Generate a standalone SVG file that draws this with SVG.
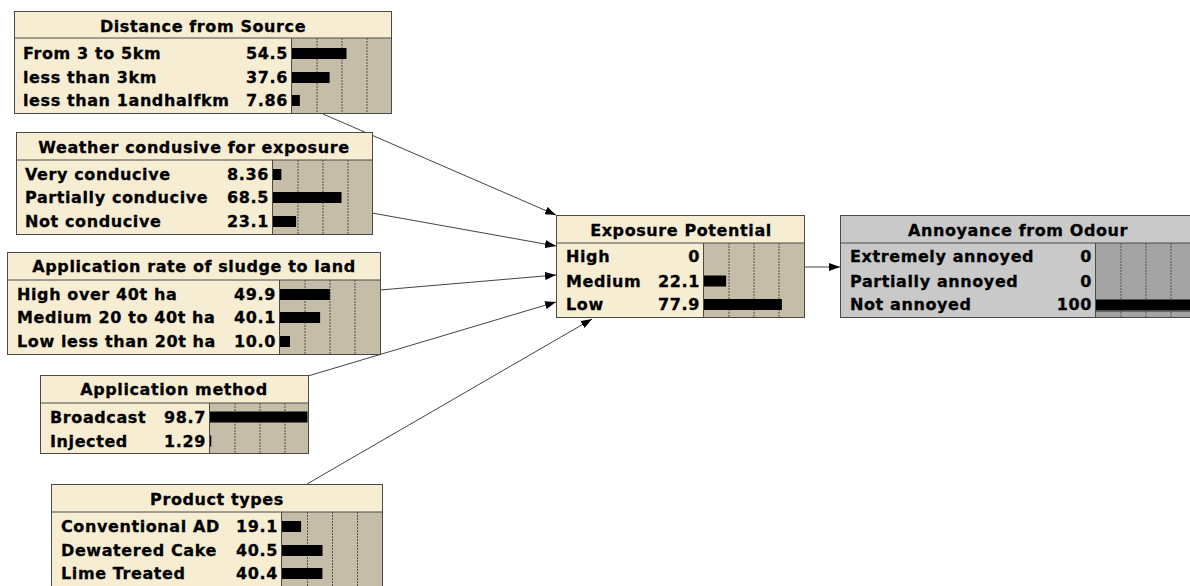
<svg xmlns="http://www.w3.org/2000/svg" width="1190" height="586" viewBox="0 0 1190 586">
<style>
text{font-family:"DejaVu Sans","Liberation Sans",sans-serif;font-weight:bold;font-size:16px;letter-spacing:0.6px;fill:#000;stroke:#000;stroke-width:0.3px}
.t{text-anchor:middle}
.v{text-anchor:end}
.box{fill:#f7edd3;stroke:#4a4a4a;stroke-width:1}
.sep{stroke:#4a4a4a;stroke-width:1}
.area{fill:#c6bda9}
.gbox{fill:#c9c9c9;stroke:#4a4a4a;stroke-width:1}
.garea{fill:#a4a4a4}
.grid{stroke:#555;stroke-width:1;stroke-dasharray:2,1}
.bar{fill:#000}
.conn{stroke:#444;stroke-width:1;fill:none;marker-end:url(#arr)}
</style>
<defs>
<marker id="arr" markerUnits="userSpaceOnUse" markerWidth="11" markerHeight="8" refX="11" refY="4" orient="auto">
<path d="M0,0 L11,4 L0,8 z" fill="#000"/>
</marker>
</defs>

<g id="connectors">
<line class="conn" x1="323" y1="114" x2="556" y2="215"/>
<line class="conn" x1="372" y1="213" x2="556" y2="246"/>
<line class="conn" x1="380" y1="290" x2="556" y2="275"/>
<line class="conn" x1="308" y1="376" x2="556" y2="302"/>
<line class="conn" x1="307" y1="484" x2="592" y2="319"/>
<line class="conn" x1="804" y1="267" x2="840" y2="267"/>
</g>

<g id="distance">
<rect class="box" x="14.5" y="11.5" width="377" height="102"/>
<rect class="area" x="292" y="38" width="99" height="75"/>
<line class="sep" x1="14.5" y1="38" x2="391.5" y2="38"/>
<line class="sep" x1="291.5" y1="38" x2="291.5" y2="113.5"/>
<line class="grid" x1="317" y1="38" x2="317" y2="113"/>
<line class="grid" x1="342" y1="38" x2="342" y2="113"/>
<line class="grid" x1="367" y1="38" x2="367" y2="113"/>
<rect class="bar" x="292" y="48" width="54.5" height="11"/>
<rect class="bar" x="292" y="72" width="37.6" height="11"/>
<rect class="bar" x="292" y="95" width="7.86" height="11"/>
<text class="t" x="203" y="32">Distance from Source</text>
<text x="23" y="59">From 3 to 5km</text>
<text class="v" x="288" y="59">54.5</text>
<text x="23" y="83">less than 3km</text>
<text class="v" x="288" y="83">37.6</text>
<text x="23" y="106">less than 1andhalfkm</text>
<text class="v" x="288" y="106">7.86</text>
</g>

<g id="weather">
<rect class="box" x="16.5" y="132.5" width="356" height="102"/>
<rect class="area" x="273" y="160" width="99" height="74"/>
<line class="sep" x1="16.5" y1="160" x2="372.5" y2="160"/>
<line class="sep" x1="272.5" y1="160" x2="272.5" y2="234.5"/>
<line class="grid" x1="298" y1="160" x2="298" y2="234"/>
<line class="grid" x1="323" y1="160" x2="323" y2="234"/>
<line class="grid" x1="348" y1="160" x2="348" y2="234"/>
<rect class="bar" x="273" y="169" width="8.36" height="11"/>
<rect class="bar" x="273" y="192" width="68.5" height="11"/>
<rect class="bar" x="273" y="216" width="23.1" height="11"/>
<text class="t" x="194" y="153">Weather condusive for exposure</text>
<text x="25" y="179.5">Very conducive</text>
<text class="v" x="269" y="179.5">8.36</text>
<text x="25" y="203">Partially conducive</text>
<text class="v" x="269" y="203">68.5</text>
<text x="25" y="226.5">Not conducive</text>
<text class="v" x="269" y="226.5">23.1</text>
</g>

<g id="apprate">
<rect class="box" x="7.5" y="252.5" width="373" height="102"/>
<rect class="area" x="280" y="280" width="100" height="74"/>
<line class="sep" x1="7.5" y1="280" x2="380.5" y2="280"/>
<line class="sep" x1="279.5" y1="280" x2="279.5" y2="354.5"/>
<line class="grid" x1="305" y1="280" x2="305" y2="354"/>
<line class="grid" x1="330" y1="280" x2="330" y2="354"/>
<line class="grid" x1="355" y1="280" x2="355" y2="354"/>
<rect class="bar" x="280" y="289" width="49.9" height="11"/>
<rect class="bar" x="280" y="312" width="40.1" height="11"/>
<rect class="bar" x="280" y="336" width="10.0" height="11"/>
<text class="t" x="194" y="272">Application rate of sludge to land</text>
<text x="17" y="299.5">High over 40t ha</text>
<text class="v" x="276" y="299.5">49.9</text>
<text x="17" y="323">Medium 20 to 40t ha</text>
<text class="v" x="276" y="323">40.1</text>
<text x="17" y="346.5">Low less than 20t ha</text>
<text class="v" x="276" y="346.5">10.0</text>
</g>

<g id="appmethod">
<rect class="box" x="40.5" y="375.5" width="268" height="78"/>
<rect class="area" x="210" y="403" width="98" height="50"/>
<line class="sep" x1="40.5" y1="403" x2="308.5" y2="403"/>
<line class="sep" x1="209.5" y1="403" x2="209.5" y2="453.5"/>
<line class="grid" x1="235" y1="403" x2="235" y2="453"/>
<line class="grid" x1="260" y1="403" x2="260" y2="453"/>
<line class="grid" x1="285" y1="403" x2="285" y2="453"/>
<rect class="bar" x="210" y="411.5" width="97.5" height="11"/>
<rect class="bar" x="210" y="435.5" width="1.29" height="11"/>
<text class="t" x="174" y="395">Application method</text>
<text x="50" y="422.5">Broadcast</text>
<text class="v" x="206" y="422.5">98.7</text>
<text x="50" y="446.5">Injected</text>
<text class="v" x="206" y="446.5">1.29</text>
</g>

<g id="product">
<rect class="box" x="51.5" y="484.5" width="331" height="110"/>
<rect class="area" x="282" y="512" width="100" height="82"/>
<line class="sep" x1="51.5" y1="512" x2="382.5" y2="512"/>
<line class="sep" x1="281.5" y1="512" x2="281.5" y2="594"/>
<line class="grid" x1="307.5" y1="512" x2="307.5" y2="594"/>
<line class="grid" x1="332.5" y1="512" x2="332.5" y2="594"/>
<line class="grid" x1="357.5" y1="512" x2="357.5" y2="594"/>
<rect class="bar" x="282" y="521" width="19.1" height="11"/>
<rect class="bar" x="282" y="545" width="40.5" height="11"/>
<rect class="bar" x="282" y="568" width="40.4" height="11"/>
<text class="t" x="217" y="504.5">Product types</text>
<text x="61" y="531.5">Conventional AD</text>
<text class="v" x="278" y="531.5">19.1</text>
<text x="61" y="555.5">Dewatered Cake</text>
<text class="v" x="278" y="555.5">40.5</text>
<text x="61" y="579">Lime Treated</text>
<text class="v" x="278" y="579">40.4</text>
</g>

<g id="exposure">
<rect class="box" x="556.5" y="215.5" width="248" height="102"/>
<rect class="area" x="704" y="243" width="100" height="74"/>
<line class="sep" x1="556.5" y1="243" x2="804.5" y2="243"/>
<line class="sep" x1="703.5" y1="243" x2="703.5" y2="317.5"/>
<line class="grid" x1="729" y1="243" x2="729" y2="317"/>
<line class="grid" x1="754" y1="243" x2="754" y2="317"/>
<line class="grid" x1="779" y1="243" x2="779" y2="317"/>
<rect class="bar" x="704" y="275.5" width="22.1" height="11"/>
<rect class="bar" x="704" y="299" width="77.9" height="11"/>
<text class="t" x="681" y="236">Exposure Potential</text>
<text x="566" y="262">High</text>
<text class="v" x="700" y="262">0</text>
<text x="566" y="286.5">Medium</text>
<text class="v" x="700" y="286.5">22.1</text>
<text x="566" y="310">Low</text>
<text class="v" x="700" y="310">77.9</text>
</g>

<g id="annoyance">
<rect class="gbox" x="840.5" y="215.5" width="356" height="102"/>
<rect class="garea" x="1096" y="243" width="100" height="74"/>
<line class="sep" x1="840.5" y1="243" x2="1196.5" y2="243"/>
<line class="sep" x1="1095.5" y1="243" x2="1095.5" y2="317.5"/>
<line class="grid" x1="1121" y1="243" x2="1121" y2="317"/>
<line class="grid" x1="1146" y1="243" x2="1146" y2="317"/>
<line class="grid" x1="1171" y1="243" x2="1171" y2="317"/>
<rect class="bar" x="1096" y="299.5" width="100" height="11"/>
<line x1="1096" y1="311.5" x2="1196" y2="311.5" stroke="#666" stroke-width="1"/>
<text class="t" x="1018" y="236">Annoyance from Odour</text>
<text x="850" y="262">Extremely annoyed</text>
<text class="v" x="1092" y="262">0</text>
<text x="850" y="286.5">Partially annoyed</text>
<text class="v" x="1092" y="286.5">0</text>
<text x="850" y="310">Not annoyed</text>
<text class="v" x="1092" y="310">100</text>
</g>
</svg>
